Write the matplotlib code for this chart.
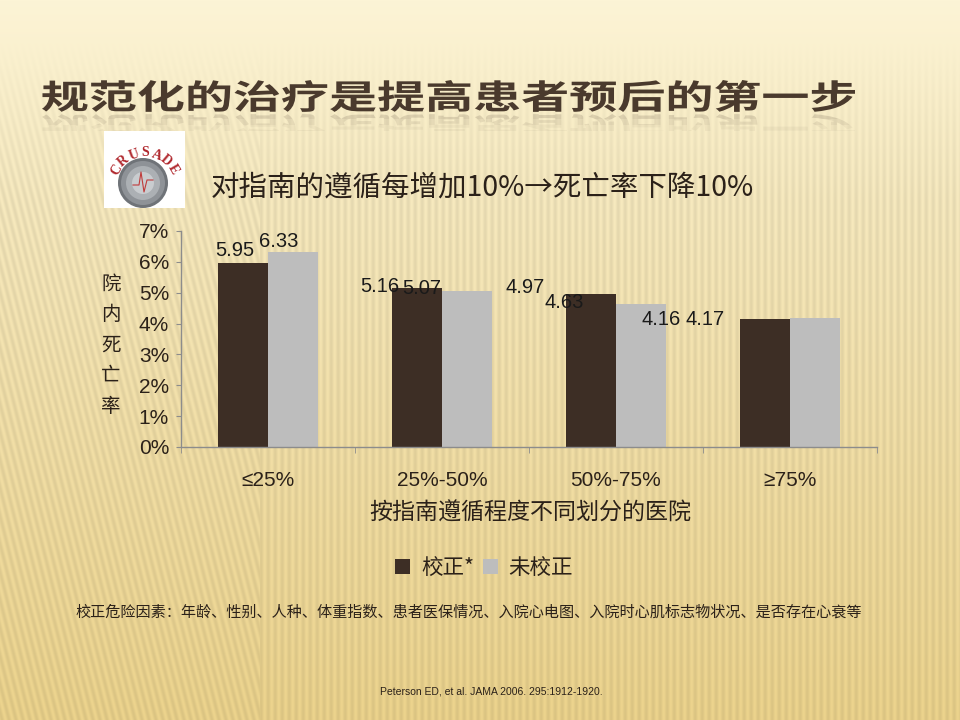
import numpy as np
import matplotlib
matplotlib.use('Agg')
import matplotlib.pyplot as plt
from matplotlib.textpath import TextPath
from matplotlib.patches import PathPatch, Rectangle, Circle
from matplotlib.font_manager import FontProperties
from matplotlib.transforms import Affine2D

# data
categories = ['≤25%', '25%-50%', '50%-75%', '≥75%']
adjusted = [5.95, 5.16, 4.97, 4.16]
unadjusted = [6.33, 5.07, 4.63, 4.17]
series_names = ['校正*', '未校正']
yticks = [0, 1, 2, 3, 4, 5, 6, 7]

title = '规范化的治疗是提高患者预后的第一步'
subtitle = '对指南的遵循每增加10%→死亡率下降10%'
ylabel = '院内死亡率'
xlabel = '按指南遵循程度不同划分的医院'
footnote = '校正危险因素：年龄、性别、人种、体重指数、患者医保情况、入院心电图、入院时心肌标志物状况、是否存在心衰等'
source = 'Peterson ED, et al. JAMA 2006. 295:1912-1920.'

CJK = ['Noto Sans CJK SC', 'DejaVu Sans']
LAT = ['Liberation Sans', 'DejaVu Sans']
NARROW = ['Liberation Sans Narrow', 'Liberation Sans', 'DejaVu Sans']

dark = '#3d2e25'
grey = '#bdbdbd'
ink = '#2b2119'
axis_grey = '#8c8c8c'

W, H = 960, 720
fig = plt.figure(figsize=(9.6, 7.2), dpi=100)

# background slide (pixel coords, y down)
bg = fig.add_axes([0, 0, 1, 1])
yy, xx = np.mgrid[0:H, 0:W]
t = yy / H
top = np.array([252, 244, 214]) / 255
bot = np.array([236, 211, 140]) / 255
img = top + (bot - top) * (t[..., None] ** 0.9)
amp = np.clip((yy - 40) / 160, 0, 1) * 0.07
shift = np.where(xx < 260, 0.25 * (H - yy), 0)
stripe = 0.5 + 0.5 * np.sin(2 * np.pi * (xx + shift) / 7)
img = img * (1 - amp * stripe)[..., None]
bg.imshow(np.clip(img, 0, 1), extent=[0, W, H, 0], aspect='auto')
bg.set_xlim(0, W)
bg.set_ylim(H, 0)
bg.axis('off')

# title drawn as a path so it can be stretched and mirrored
fp = FontProperties(family='Noto Sans CJK SC', weight='bold')
tp = TextPath((0, 0), title, size=40, prop=fp)
ext = tp.get_extents()
sx = (855 - 42) / ext.width
sy = (112 - 80) / ext.height
base = Affine2D().translate(-ext.x0, -ext.y0)
bg.add_patch(PathPatch(tp, transform=base + Affine2D().scale(sx, -sy).translate(42, 112) + bg.transData,
                       facecolor='#4a3a2d', edgecolor='none', zorder=3))
for k, a in enumerate([0.16, 0.10, 0.05]):
    refl = PathPatch(tp, transform=base + Affine2D().scale(sx, sy * 0.9).translate(42, 114) + bg.transData,
                     facecolor='#4a3a2d', edgecolor='none', alpha=a, zorder=3)
    bg.add_patch(refl)
    refl.set_clip_path(Rectangle((0, 113 + 6 * k), W, 6, transform=bg.transData))

# logo
bg.add_patch(Rectangle((104, 131), 81, 77, facecolor='white', edgecolor='none', zorder=3))
for r, c in zip([25, 22, 17, 11], ['#6f7378', '#8e9297', '#acb0b4', '#c9cccf']):
    bg.add_patch(Circle((143, 183), r, facecolor=c, edgecolor='none', zorder=4))
word = 'CRUSADE'
angles = np.linspace(150, 30, len(word))
for ch, a in zip(word, angles):
    th = np.radians(a)
    bg.text(145 + 33 * np.cos(th), 186 - 33 * np.sin(th), ch, rotation=a - 90,
            ha='center', va='center', fontsize=10, color='#b0282e', weight='bold',
            family=['Liberation Serif', 'DejaVu Serif'], zorder=5)
bg.plot([133, 139, 141, 144, 147, 153], [185, 185, 172, 192, 180, 180], color='#c03a3a', lw=0.8, zorder=5)

# subtitle and side texts
bg.text(482, 188, subtitle, fontsize=20.5, family=CJK, ha='center', va='center', color=ink)
for i, ch in enumerate(ylabel):
    bg.text(111, 284 + 30.5 * i, ch, fontsize=14, family=CJK, ha='center', va='center', color=ink)
bg.text(530, 513, xlabel, fontsize=16.6, family=CJK, ha='center', va='center', color=ink)
bg.text(469, 612, footnote, fontsize=10.9, family=CJK, ha='center', va='center', color=ink)
bg.text(491, 692, source, fontsize=7.5, family=NARROW, ha='center', va='center', color=ink)

# chart
ax = fig.add_axes([181 / W, (H - 447) / H, 696 / W, 216 / H])
ax.patch.set_alpha(0)
x = np.arange(len(categories))
w = 0.287
b1 = ax.bar(x - w / 2, adjusted, w, color=dark, label=series_names[0])
b2 = ax.bar(x + w / 2, unadjusted, w, color=grey, label=series_names[1])
ax.set_xlim(-0.5, len(categories) - 0.5)
ax.set_ylim(0, 7)

for s in ['top', 'right']:
    ax.spines[s].set_visible(False)
for s in ['left', 'bottom']:
    ax.spines[s].set_color(axis_grey)
    ax.spines[s].set_linewidth(1)

ax.set_yticks(yticks)
ax.set_yticklabels([f'{v}%' for v in yticks], family=LAT, fontsize=15, color=ink)
ax.tick_params(axis='y', length=3.6, color=axis_grey, pad=5)
ax.set_xticks(x)
ax.set_xticklabels(categories, family=LAT, fontsize=15, color=ink)
ax.tick_params(axis='x', which='major', length=0, pad=17)
ax.set_xticks(np.arange(-0.5, len(categories)), minor=True)
ax.tick_params(axis='x', which='minor', length=4.3, color=axis_grey)

# data labels, nudged like the original slide
offs_adj = [(-8, 13), (-37, 1), (-66, 6), (-104, -1)]
offs_un = [(-14, 10), (-45, 2), (-77, 2), (-110, -1)]
for xi, v, o in zip(x - w / 2, adjusted, offs_adj):
    ax.annotate(f'{v:.2f}', (xi, v), xytext=o, textcoords='offset pixels',
                ha='center', va='center', fontsize=14.5, family=LAT, color='#1a1a1a')
for xi, v, o in zip(x + w / 2, unadjusted, offs_un):
    ax.annotate(f'{v:.2f}', (xi, v), xytext=o, textcoords='offset pixels',
                ha='center', va='center', fontsize=14.5, family=LAT, color='#1a1a1a')

fig.legend(handles=[b1, b2], labels=series_names, loc='center', bbox_to_anchor=(484 / W, 1 - 568 / H),
           ncol=2, frameon=False, handlelength=0.7, handleheight=0.7, handletextpad=0.5,
           columnspacing=0.4, prop=FontProperties(family=CJK, size=15.5), labelcolor=ink)

fig.savefig('out.png', dpi=100)
